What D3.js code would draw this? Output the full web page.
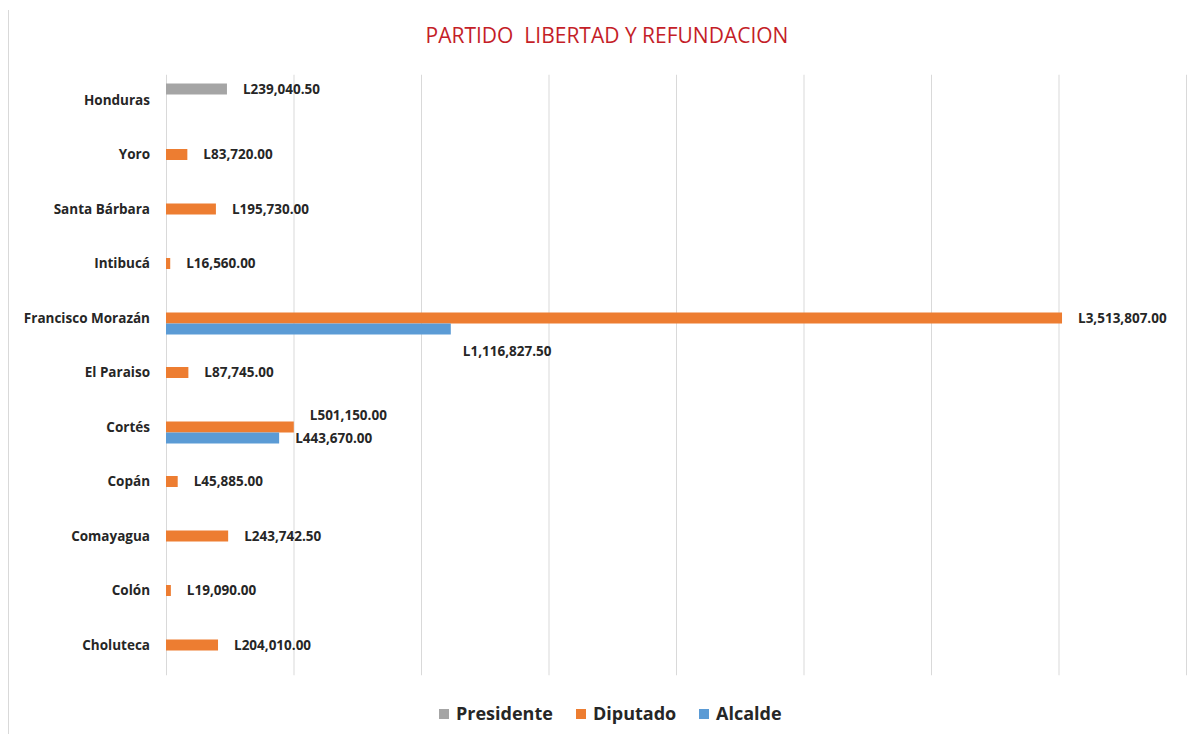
<!DOCTYPE html>
<html>
<head>
<meta charset="utf-8">
<script src="https://cdn.jsdelivr.net/npm/d3@7"></script>
<style>
  body { margin: 0; background: #fff; }
  svg { display: block; font-family: "Open Sans", "Noto Sans", sans-serif; }
</style>
</head>
<body>
<div id="chart"></div>
<script>
/* Data */
const CATEGORIES = ["Honduras", "Yoro", "Santa Bárbara", "Intibucá", "Francisco Morazán", "El Paraíso", "Cortés", "Copán", "Comayagua", "Colón", "Choluteca"]
const CATEGORY_LABELS = ["Honduras", "Yoro", "Santa Bárbara", "Intibucá", "Francisco Morazán", "El Paraiso", "Cortés", "Copán", "Comayagua", "Colón", "Choluteca"]
const SERIES = ["Presidente", "Diputado", "Alcalde"]
const PRESIDENTE = [239040.50, null, null, null, null, null, null, null, null, null, null]
const DIPUTADO = [null, 83720, 195730, 16560, 3513807, 87745, 501150, 45885, 243742.50, 19090, 204010]
const ALCALDE = [null, null, null, null, 1116827.50, null, 443670, null, null, null, null]
const X_DOMAIN = [0, 4000000]

/* Layout */
const WIDTH = 1194
const HEIGHT = 734
const PLOT = {"LEFT": 166, "RIGHT": 1186, "TOP": 72.75, "BOTTOM": 672.25}
const COLORS = {"Presidente": "#a5a5a5", "Diputado": "#ed7d31", "Alcalde": "#5b9bd5"}
const BAR_H = 11
const LABEL_GAP = 16
// a few labels were dragged off their default spot in the original
const LABEL_NUDGE = {"Francisco Morazán|Alcalde": [-4, 22], "Cortés|Diputado": [0, -12]}

const fmt = (v) => "L" + d3.format(",.2f")(v)

const svg = d3.select("#chart")
              .append("svg")
              .attr("width", WIDTH)
              .attr("height", HEIGHT);

// left edge of the chart frame
svg.append("line")
   .attr("x1", 8.5).attr("x2", 8.5)
   .attr("y1", 10).attr("y2", HEIGHT)
   .attr("stroke", "#d9d9d9");

svg.append("text")
   .attr("x", 607)
   .attr("y", 43)
   .attr("text-anchor", "middle")
   .attr("fill", "#c41e28")
   .attr("font-size", 21)
   .style("white-space", "pre")
   .text("PARTIDO  LIBERTAD Y REFUNDACION");

const x = d3.scaleLinear().domain(X_DOMAIN).range([PLOT.LEFT, PLOT.RIGHT]);
const y = d3.scaleBand().domain(CATEGORIES).range([PLOT.TOP, PLOT.BOTTOM]).padding(0);
const ySub = d3.scaleBand().domain(SERIES).range([-1.5 * BAR_H, 1.5 * BAR_H]);

/* gridlines */
const grid = svg.append("g")
                .attr("transform", "translate(0," + (PLOT.TOP + 2) + ")")
                .call(d3.axisBottom(x).ticks(8).tickSize(PLOT.BOTTOM - PLOT.TOP + 1).tickFormat(""));
grid.select(".domain").remove();
grid.selectAll(".tick line").attr("stroke", "#d9d9d9");

/* category labels */
svg.append("g")
   .selectAll("text")
   .data(CATEGORIES)
   .enter()
   .append("text")
   .attr("x", 150)
   .attr("y", (d) => y(d) + y.bandwidth() / 2)
   .attr("dy", "0.35em")
   .attr("text-anchor", "end")
   .attr("font-size", 13.5)
   .attr("font-weight", "bold")
   .attr("fill", "#262626")
   .text((d, i) => CATEGORY_LABELS[i]);

/* bars */
const values = {"Presidente": PRESIDENTE, "Diputado": DIPUTADO, "Alcalde": ALCALDE}
const points = [];
SERIES.forEach((s) => {
  values[s].forEach((v, i) => {
    if (v !== null) points.push({"cat": CATEGORIES[i], "series": s, "value": v});
  });
});
const barY = (d) => y(d.cat) + y.bandwidth() / 2 + ySub(d.series);

svg.append("g")
   .selectAll("rect")
   .data(points)
   .enter()
   .append("rect")
   .attr("x", x(0))
   .attr("y", barY)
   .attr("width", (d) => x(d.value) - x(0))
   .attr("height", ySub.bandwidth())
   .attr("fill", (d) => COLORS[d.series]);

svg.append("g")
   .selectAll("text")
   .data(points)
   .enter()
   .append("text")
   .attr("x", (d) => x(d.value) + LABEL_GAP + ((LABEL_NUDGE[d.cat + "|" + d.series] || [0, 0])[0]))
   .attr("y", (d) => barY(d) + ySub.bandwidth() / 2 + ((LABEL_NUDGE[d.cat + "|" + d.series] || [0, 0])[1]))
   .attr("dy", "0.35em")
   .attr("font-size", 13.5)
   .attr("font-weight", "bold")
   .attr("fill", "#262626")
   .text((d) => fmt(d.value));

/* legend */
const legendItems = [{"name": "Presidente", "x": 439}, {"name": "Diputado", "x": 576}, {"name": "Alcalde", "x": 699}];
const legend = svg.append("g").attr("transform", "translate(0,714)");
legend.selectAll("rect")
      .data(legendItems)
      .enter()
      .append("rect")
      .attr("x", (d) => d.x)
      .attr("y", -5)
      .attr("width", 10)
      .attr("height", 10)
      .attr("fill", (d) => COLORS[d.name]);
legend.selectAll("text")
      .data(legendItems)
      .enter()
      .append("text")
      .attr("x", (d) => d.x + 17)
      .attr("y", 0)
      .attr("dy", "0.35em")
      .attr("font-size", 18)
      .attr("font-weight", "bold")
      .attr("fill", "#262626")
      .text((d) => d.name);
</script>
</body>
</html>
